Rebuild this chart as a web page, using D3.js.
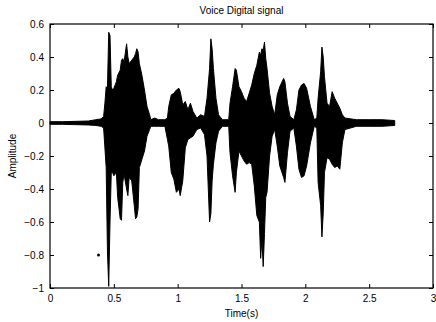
<!DOCTYPE html>
<html>
<head>
<meta charset="utf-8">
<script src="https://cdn.jsdelivr.net/npm/d3@7"></script>
<style>
  body { margin: 0; background: #fff; }
  svg text { font-family: "Liberation Sans", Arial, sans-serif; fill: #000; }
</style>
</head>
<body>
<div id="chart"></div>
<script>
const times = [0.00, 0.10, 0.20, 0.30, 0.36, 0.40, 0.42, 0.43, 0.44, 0.45, 0.46, 0.47, 0.48, 0.49, 0.50,
  0.52, 0.53, 0.55, 0.56, 0.57, 0.58, 0.60, 0.61, 0.62, 0.64, 0.66, 0.67, 0.68, 0.69, 0.70, 0.72, 0.74,
  0.76, 0.78, 0.79, 0.82, 0.85, 0.90, 0.92, 0.93, 0.95, 0.97, 0.99, 1.01, 1.02, 1.04, 1.06, 1.08, 1.10,
  1.12, 1.15, 1.18, 1.21, 1.23, 1.25, 1.26, 1.27, 1.28, 1.30, 1.32, 1.35, 1.40, 1.41, 1.43, 1.45, 1.46,
  1.48, 1.50, 1.52, 1.54, 1.56, 1.58, 1.60, 1.62, 1.64, 1.65, 1.66, 1.67, 1.68, 1.69, 1.70, 1.72, 1.74,
  1.76, 1.78, 1.80, 1.83, 1.84, 1.86, 1.88, 1.91, 1.93, 1.95, 1.97, 1.99, 2.01, 2.04, 2.07, 2.09, 2.10,
  2.12, 2.13, 2.14, 2.15, 2.17, 2.19, 2.21, 2.23, 2.25, 2.27, 2.29, 2.31, 2.40, 2.50, 2.60, 2.70];
const upper = [0.008, 0.008, 0.01, 0.012, 0.02, 0.025, 0.04, 0.12, 0.22, 0.21, 0.55, 0.53, 0.22, 0.20, 0.21,
  0.25, 0.29, 0.32, 0.38, 0.39, 0.37, 0.48, 0.40, 0.36, 0.38, 0.40, 0.42, 0.45, 0.43, 0.36, 0.29, 0.20,
  0.10, 0.05, 0.02, 0.03, 0.02, 0.02, 0.03, 0.10, 0.17, 0.18, 0.20, 0.21, 0.19, 0.11, 0.13, 0.08, 0.12,
  0.07, 0.03, 0.05, 0.04, 0.15, 0.33, 0.51, 0.45, 0.33, 0.15, 0.05, 0.02, 0.02, 0.12, 0.22, 0.33, 0.32,
  0.22, 0.19, 0.15, 0.13, 0.18, 0.23, 0.30, 0.35, 0.43, 0.41, 0.45, 0.44, 0.49, 0.39, 0.33, 0.18, 0.10,
  0.05, 0.17, 0.22, 0.27, 0.25, 0.12, 0.04, 0.02, 0.08, 0.20, 0.23, 0.24, 0.21, 0.10, 0.02, 0.03, 0.15,
  0.31, 0.46, 0.40, 0.28, 0.12, 0.10, 0.19, 0.15, 0.12, 0.09, 0.05, 0.03, 0.02, 0.02, 0.02, 0.015];
const lower = [-0.008, -0.008, -0.01, -0.012, -0.015, -0.02, -0.03, -0.15, -0.27, -0.78, -0.99, -0.60, -0.30, -0.30, -0.32,
  -0.30, -0.45, -0.58, -0.59, -0.36, -0.31, -0.40, -0.44, -0.33, -0.35, -0.50, -0.58, -0.57, -0.52, -0.27, -0.22, -0.17,
  -0.08, -0.04, -0.02, -0.02, -0.02, -0.02, -0.10, -0.14, -0.30, -0.34, -0.42, -0.40, -0.44, -0.35, -0.15, -0.10, -0.09,
  -0.08, -0.04, -0.03, -0.07, -0.20, -0.60, -0.55, -0.35, -0.25, -0.12, -0.05, -0.02, -0.02, -0.18, -0.32, -0.42, -0.30,
  -0.17, -0.20, -0.23, -0.25, -0.24, -0.25, -0.38, -0.56, -0.60, -0.82, -0.70, -0.87, -0.67, -0.45, -0.42, -0.20, -0.08,
  -0.04, -0.14, -0.26, -0.33, -0.36, -0.18, -0.05, -0.03, -0.14, -0.28, -0.33, -0.32, -0.26, -0.12, -0.02, -0.03, -0.36,
  -0.50, -0.69, -0.55, -0.30, -0.21, -0.22, -0.25, -0.27, -0.26, -0.28, -0.12, -0.04, -0.02, -0.02, -0.02, -0.015];
// stray dot left of the first word
const strayDot = [[0.38, -0.80]];

const xTicks = [0, 0.5, 1, 1.5, 2, 2.5, 3];
const yTicks = [0.6, 0.4, 0.2, 0, -0.2, -0.4, -0.6, -0.8, -1];

const width = 436, height = 322;
const margin = {top: 24, right: 3, bottom: 34, left: 50};
const innerW = width - margin.left - margin.right;
const innerH = height - margin.top - margin.bottom;

const svg = d3.select("#chart").append("svg")
  .attr("width", width)
  .attr("height", height);

const g = svg.append("g")
  .attr("transform", "translate(" + margin.left + "," + margin.top + ")");

const x = d3.scaleLinear().domain([0, 3]).range([0, innerW]);
const y = d3.scaleLinear().domain([-1, 0.6]).range([innerH, 0]);

const env = times.map((t, i) => [t, upper[i], lower[i]]);

const area = d3.area()
  .x(d => x(d[0]))
  .y0(d => y(d[2]))
  .y1(d => y(d[1]));

g.append("path")
  .datum(env)
  .attr("fill", "#000")
  .attr("stroke", "#000")
  .attr("stroke-width", 1)
  .attr("d", area);

g.selectAll(".dot")
  .data(strayDot)
  .enter().append("circle")
  .attr("cx", d => x(d[0]))
  .attr("cy", d => y(d[1]))
  .attr("r", 1.5)
  .attr("fill", "#000");

// axes, ticks inside and mirrored like a matlab box
const fmt = d => d3.format("")(d);
g.append("g")
  .attr("transform", "translate(0," + innerH + ")")
  .call(d3.axisBottom(x).tickValues(xTicks).tickSizeInner(-4).tickSizeOuter(0).tickPadding(7).tickFormat(fmt));
g.append("g")
  .call(d3.axisTop(x).tickValues(xTicks).tickSizeInner(-4).tickSizeOuter(0).tickFormat(""));
g.append("g")
  .call(d3.axisLeft(y).tickValues(yTicks).tickSizeInner(-4).tickSizeOuter(0).tickPadding(6).tickFormat(fmt));
g.append("g")
  .attr("transform", "translate(" + innerW + ",0)")
  .call(d3.axisRight(y).tickValues(yTicks).tickSizeInner(-4).tickSizeOuter(0).tickFormat(""));

g.selectAll(".domain").remove();
g.selectAll(".tick line").attr("stroke", "#000");
g.selectAll(".tick text").attr("font-size", 10).attr("font-family", "Liberation Sans, Arial, sans-serif");

g.append("rect")
  .attr("width", innerW)
  .attr("height", innerH)
  .attr("fill", "none")
  .attr("stroke", "#000")
  .attr("stroke-width", 1.2);

svg.append("text")
  .attr("x", margin.left + innerW / 2)
  .attr("y", 14)
  .attr("text-anchor", "middle")
  .attr("font-size", 10)
  .text("Voice Digital signal");

svg.append("text")
  .attr("x", margin.left + innerW / 2)
  .attr("y", 317)
  .attr("text-anchor", "middle")
  .attr("font-size", 10)
  .text("Time(s)");

svg.append("text")
  .attr("transform", "translate(16," + (margin.top + innerH / 2) + ") rotate(-90)")
  .attr("text-anchor", "middle")
  .attr("font-size", 10)
  .text("Amplitude");
</script>
</body>
</html>
